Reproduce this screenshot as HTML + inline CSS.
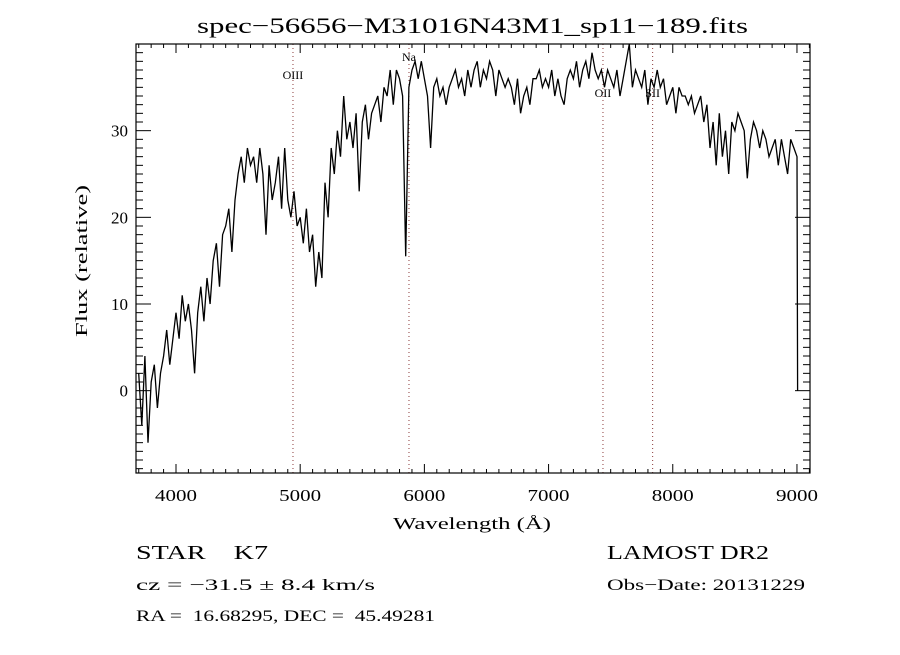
<!DOCTYPE html>
<html><head><meta charset="utf-8"><style>
body{margin:0;background:#fff;}
svg text{font-family:"Liberation Serif",serif;fill:#000;white-space:pre;}
</style></head><body>
<svg width="900" height="650" viewBox="0 0 900 650" xmlns="http://www.w3.org/2000/svg" xml:space="preserve">
<rect width="900" height="650" fill="#fff"/>
<text x="197" y="33" font-size="22" textLength="551" lengthAdjust="spacingAndGlyphs">spec−56656−M31016N43M1_sp11−189.fits</text>
<g id="lines"></g>
<g id="axes"></g>
<path id="spec" fill="none" stroke="#000" stroke-width="1.3"/>
<rect x="136" y="44" width="674" height="429" fill="none" stroke="#000" stroke-width="1.2"/>
<text x="393" y="529" font-size="17" textLength="158" lengthAdjust="spacingAndGlyphs">Wavelength (Å)</text>
<text transform="translate(87,337) rotate(-90)" font-size="17" textLength="152" lengthAdjust="spacingAndGlyphs">Flux (relative)</text>
<text x="136" y="559" font-size="20" textLength="132" lengthAdjust="spacingAndGlyphs">STAR    K7</text>
<text x="136" y="590" font-size="16" textLength="239" lengthAdjust="spacingAndGlyphs">cz = −31.5 ± 8.4 km/s</text>
<text x="136" y="621" font-size="16" textLength="299" lengthAdjust="spacingAndGlyphs">RA =  16.68295, DEC =  45.49281</text>
<text x="607" y="559" font-size="20" textLength="162" lengthAdjust="spacingAndGlyphs">LAMOST DR2</text>
<text x="607" y="590" font-size="16" textLength="198" lengthAdjust="spacingAndGlyphs">Obs−Date: 20131229</text>
</svg>
<script>
const startWave = 3700;
const stepWave = 25;
const flux = [2,-4,4,-6, 1,3,-2,2, 4,7,3,6, 9,6,11,8, 10,7,2,9, 12,8,13,10, 15,17,12,18, 19,21,16,22,
25,27,24,28, 26,27,24,28, 25,18,26,22, 24,27,21,28, 22,20,23,19, 20,17,21,16, 18,12,16,13, 24,20,28,25,
30,27,34,29, 31,28,32,23, 31,33,29,32, 33,34,31,35, 34,37,33,37, 36,34,15.5,35, 37,38,36,38, 36,34,28,35,
36,34,35,33, 35,36,37,35, 36,34,37,35, 37,38,35,37, 36,38,37,34, 37,36,35,36, 35,33,36,32, 34,35,33,36,
36,37,35,36, 35,37,34,36, 34,33,36,37, 36,38,35,37, 38,36,39,37, 36,37,35,37, 36,35,37,34, 36,38,40,35,
37,36,35,37, 33,36,35,37, 35,36,33,34, 35,32,35,34, 34,33,34,32, 33,34,31,33, 28,31,26,32, 27,30,25,31,
30,32,31,30, 24.5,29,31,30, 28,30,29,27, 28,29,26,29, 27,25,29,28, 27];
const endWave = 9005;
const endFlux = 0;
const xTicks = [4000,5000,6000,7000,8000,9000];
const yTicks = [0,10,20,30];
const lineNames = ["OIII","Na","OII","SII"];
const lineWaves = [4942,5876,7438,7838];
const lineLabelY = [79,61,97,97];

const X0=3678, X1=9105, Y0=-9.5, Y1=40;
const L=136,R=810,T=44,B=473;
const sx=w=>L+(w-X0)/(X1-X0)*(R-L);
const sy=f=>B-(f-Y0)/(Y1-Y0)*(B-T);
const NS="http://www.w3.org/2000/svg";
function mk(tag,attrs,parent){const e=document.createElementNS(NS,tag);for(const k in attrs)e.setAttribute(k,attrs[k]);parent.appendChild(e);return e;}

const ax=document.getElementById('axes');
for(let w=3700;w<=9100;w+=100){
  const major=w%1000===0;const len=major?9:4;const x=sx(w);
  const t=mk('line',{x1:x,x2:x,y1:B,y2:B-len,stroke:'#000'},ax);
  
  
  const t2=mk('line',{x1:x,x2:x,y1:T,y2:T+len,stroke:'#000'},ax);
  
  
}
xTicks.forEach(w=>{
  const t=mk('text',{x:sx(w)-21,y:501,'font-size':17,textLength:42,lengthAdjust:'spacingAndGlyphs'},ax);
  t.textContent=w;
  
  
});
for(let f=-9;f<=40;f++){
  const major=f%10===0;const len=major?15:7;const y=sy(f);
  const t=mk('line',{x1:L,x2:L+len,y1:y,y2:y,stroke:'#000'},ax);
  
  
  const t2=mk('line',{x1:R,x2:R-len,y1:y,y2:y,stroke:'#000'},ax);
  
  
}
yTicks.forEach(f=>{
  const t=mk('text',{x:128,y:sy(f)+6,'font-size':17,'text-anchor':'end'},ax);
  t.textContent=f;
  
  
});
const lg=document.getElementById('lines');
lineWaves.forEach((w,i)=>{
  const x=sx(w);
  const l=mk('line',{x1:x,x2:x,y1:T,y2:B,stroke:'#8b3a3a','stroke-dasharray':'1,3'},lg);
  
  
  const t=mk('text',{x:x,y:lineLabelY[i],'font-size':12,'text-anchor':'middle'},lg);
  t.textContent=lineNames[i];
  
  
});
let d='';
flux.forEach((f,i)=>{d+=(i?'L':'M')+sx(startWave+i*stepWave).toFixed(1)+','+sy(f).toFixed(1);});
d+='L'+sx(endWave).toFixed(1)+','+sy(endFlux).toFixed(1);
document.getElementById('spec').setAttribute('d',d);
</script>
</body></html>
